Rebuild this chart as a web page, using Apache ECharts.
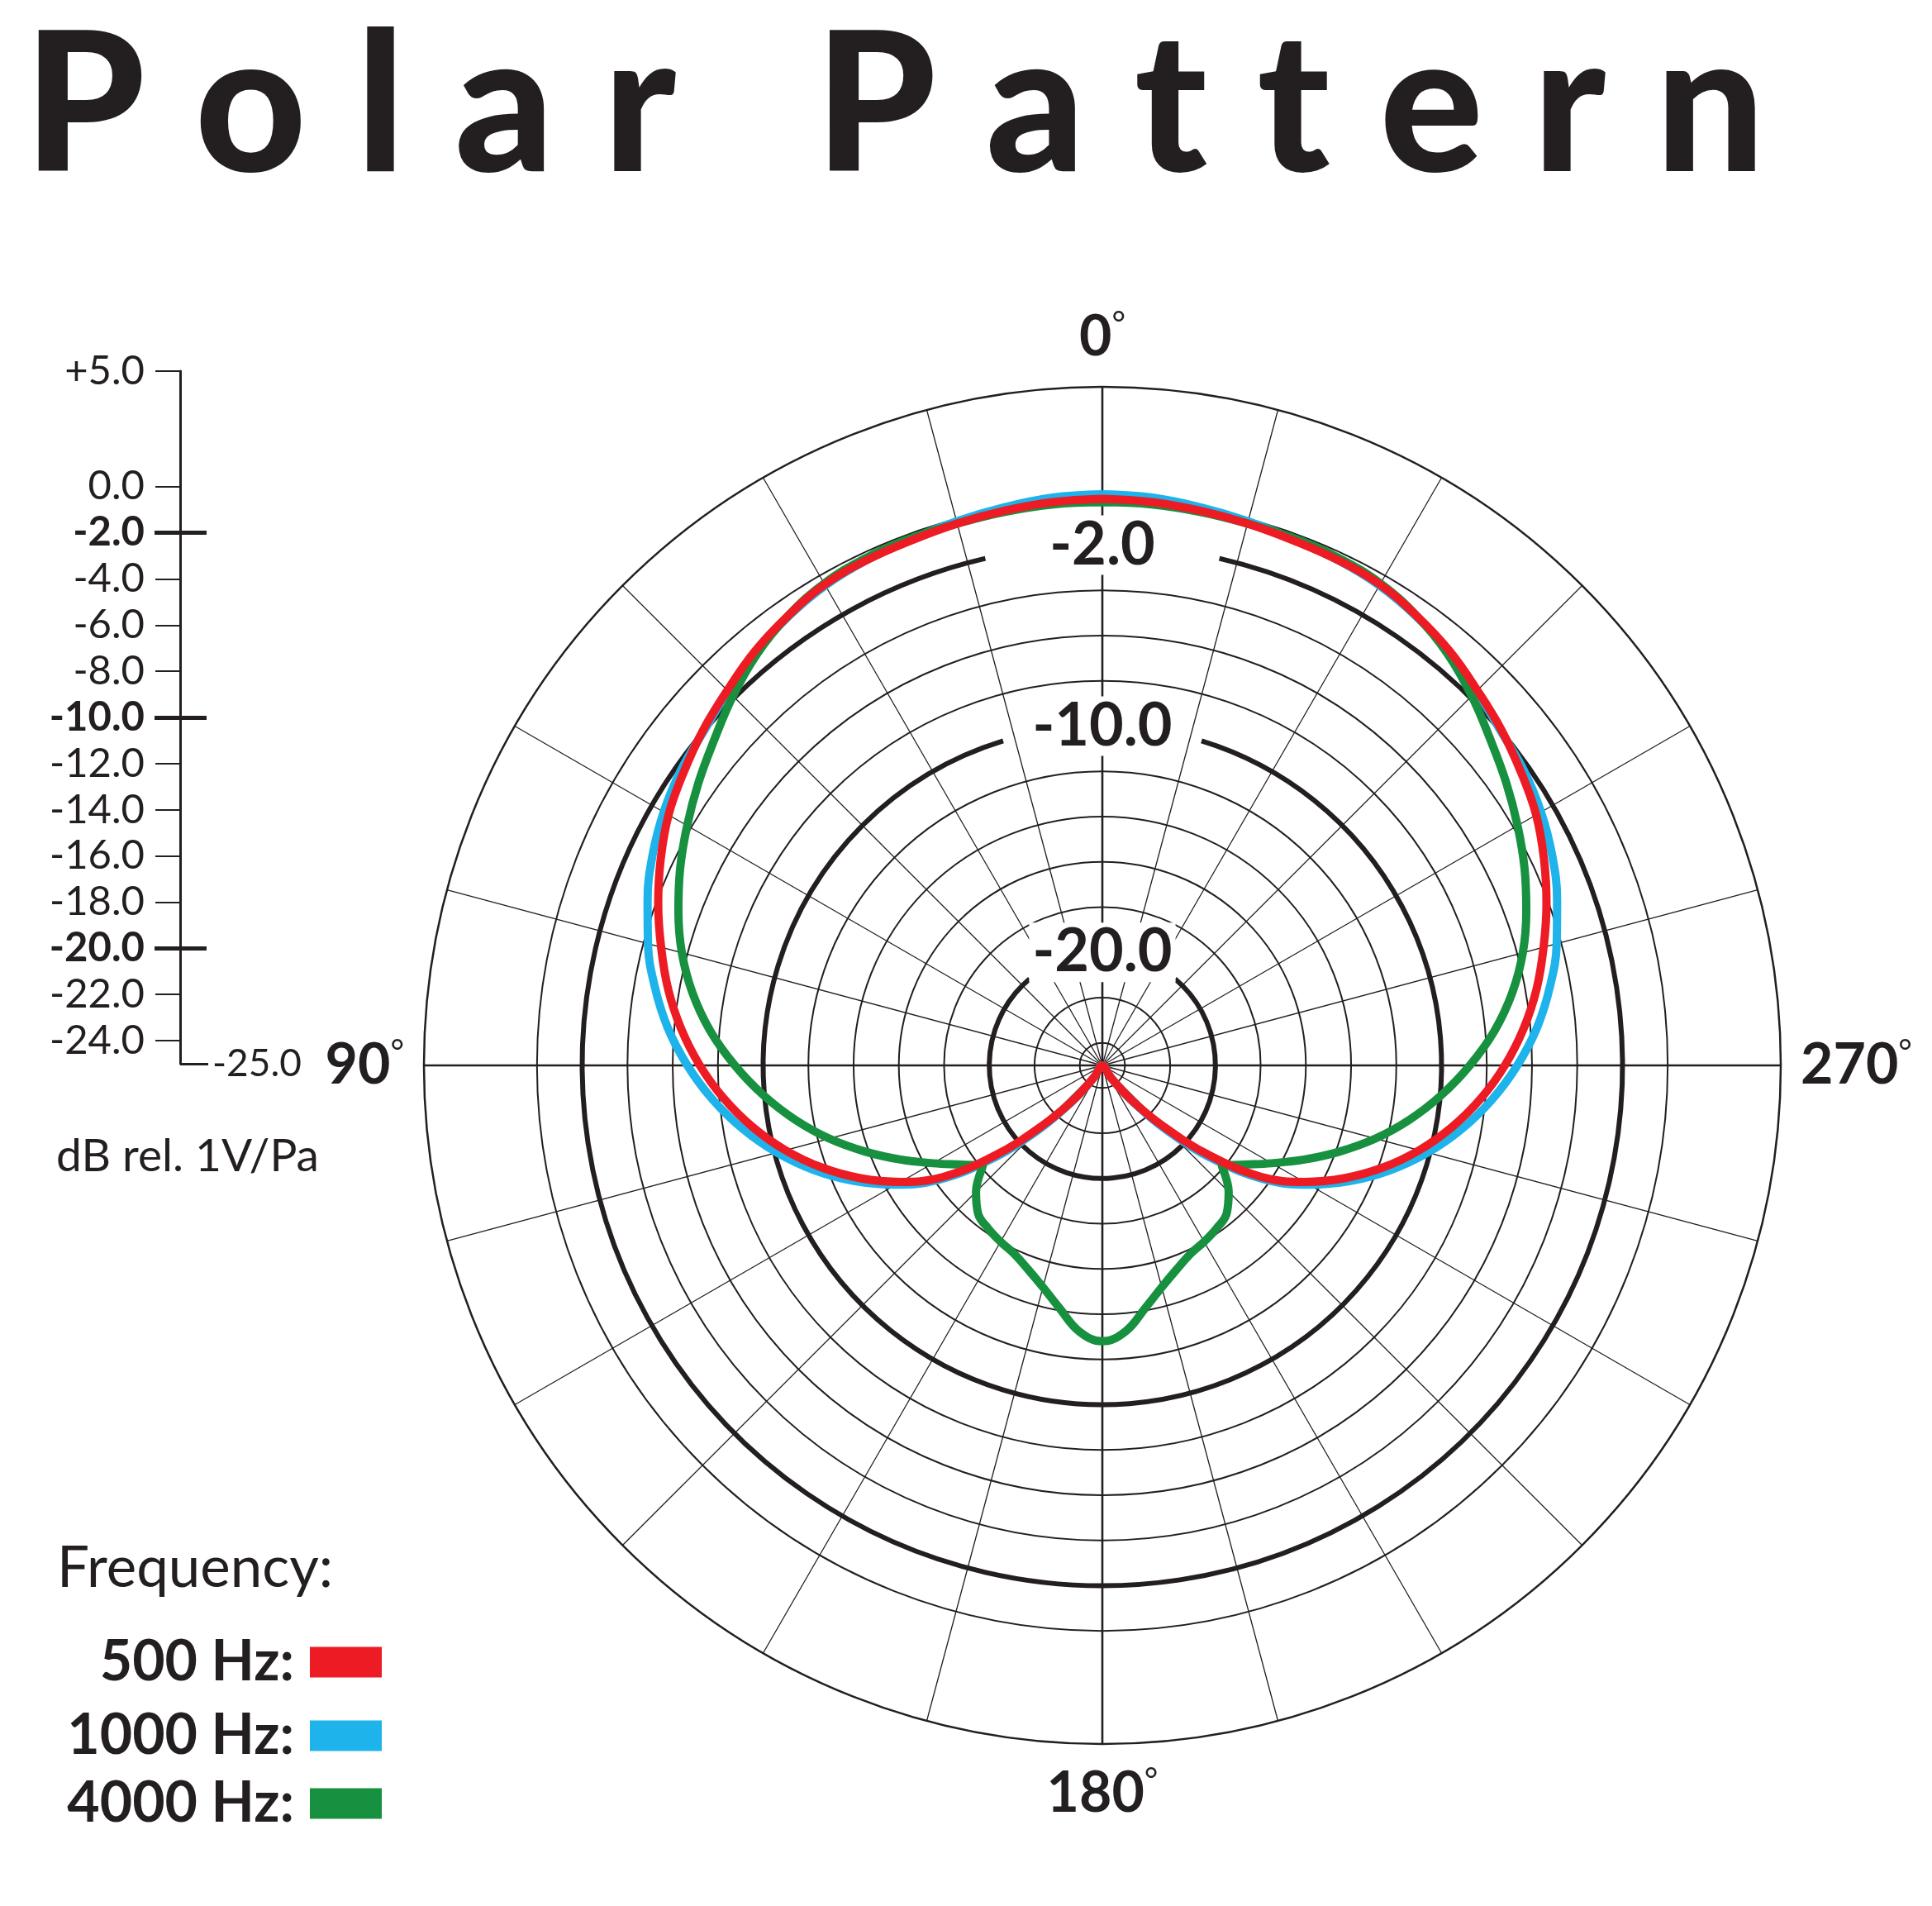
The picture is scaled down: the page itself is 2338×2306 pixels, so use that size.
<!DOCTYPE html>
<html>
<head>
<meta charset="utf-8">
<script src="https://cdn.jsdelivr.net/npm/echarts@6/dist/echarts.min.js"></script>
<style>
html,body{margin:0;padding:0;background:#ffffff;}
#chart{width:2338px;height:2306px;}
</style>
</head>
<body>
<div id="chart"></div>
<script>
// ---------------- data ----------------
const titleText = 'Polar Pattern';
const unitText = 'dB rel. 1V/Pa';
const legendTitle = 'Frequency:';
const seriesNames = ['500 Hz', '1000 Hz', '4000 Hz'];

const angles = [0,5,10,15,20,25,30,35,40,45,50,55,60,65,70,75,80,85,90,95,100,105,110,115,120,125,130,135,140,145,150,155,160,165,170,175,180,
  185,190,195,200,205,210,215,220,225,230,235,240,245,250,255,260,265,270,275,280,285,290,295,300,305,310,315,320,325,330,335,340,345,350,355,360];

const red500 = [0.05,0.0,-0.1,-0.2,-0.3,-0.35,-0.45,-0.75,-1.1,-1.55,-1.95,-2.4,-2.85,-3.45,-4.1,-4.8,-5.5,-6.3,-7.2,-8.2,-9.3,-10.5,-11.8,-13.2,-14.7,-16.4,-18.8,-21.2,-23.0,-24.4,-25,-25,-25,-25,-25,-25,-25,
  -25,-25,-25,-25,-25,-25,-24.4,-23.0,-21.2,-18.8,-16.4,-14.7,-13.2,-11.8,-10.5,-9.3,-8.2,-7.2,-6.3,-5.5,-4.8,-4.1,-3.45,-2.85,-2.4,-1.95,-1.55,-1.1,-0.75,-0.45,-0.35,-0.3,-0.2,-0.1,0.0,0.05];

const blue1000 = [0.25,0.2,0.05,-0.1,-0.25,-0.35,-0.5,-0.78,-1.15,-1.6,-2.0,-2.25,-2.6,-3.05,-3.6,-4.2,-4.9,-5.7,-6.65,-7.7,-8.85,-10.1,-11.45,-12.9,-14.45,-16.2,-18.5,-20.9,-22.9,-24.3,-25,-25,-25,-25,-25,-25,-25,
  -25,-25,-25,-25,-25,-25,-24.3,-22.9,-20.9,-18.5,-16.2,-14.45,-12.9,-11.45,-10.1,-8.85,-7.7,-6.65,-5.7,-4.9,-4.2,-3.6,-3.05,-2.6,-2.25,-2.0,-1.6,-1.15,-0.78,-0.5,-0.35,-0.25,-0.1,0.05,0.2,0.25];

const green4000 = [-0.1,-0.1,-0.15,-0.2,-0.2,-0.25,-0.4,-0.75,-1.25,-1.9,-2.6,-3.2,-3.8,-4.4,-5.05,-5.75,-6.6,-7.6,-8.75,-9.95,-11.2,-12.5,-13.85,-15.15,-16.35,-17.35,-18.1,-17.1,-16.45,-16.2,-16.0,-15.8,-15.4,-14.85,-14.1,-13.2,-12.8,
  -13.2,-14.1,-14.85,-15.4,-15.8,-16.0,-16.2,-16.45,-17.1,-18.1,-17.35,-16.35,-15.15,-13.85,-12.5,-11.2,-9.95,-8.75,-7.6,-6.6,-5.75,-5.05,-4.4,-3.8,-3.2,-2.6,-1.9,-1.25,-0.75,-0.4,-0.25,-0.2,-0.2,-0.15,-0.1,-0.1];

const seriesColors = ['#ED1C24', '#1EB3EA', '#17913F'];

// grid rings (dB) and labelled bold rings
const thinRingValues = [0, -4, -6, -8, -12, -14, -16, -18, -22, -24];
const boldRingValues = [-2, -10, -20];
const boldRingGapDeg = [13, 17, 40];
const angleLabelValues = [0, 90, 180, 270];

// left dB scale
const scaleLabelValues = [5, 0, -2, -4, -6, -8, -10, -12, -14, -16, -18, -20, -22, -24];
const scaleThinTickValues = [5, 0, -4, -6, -8, -12, -14, -16, -18, -22, -24];
const scaleBoldValues = [-2, -10, -20];
const scaleBottomValue = [-25];

// ---------------- styling ----------------
const ink = '#231f20';
const FONT = 'Lato, "Noto Sans", sans-serif';
const CX = 1334, CY = 1289, R = 821;

const chart = echarts.init(document.getElementById('chart'), null, {renderer: 'canvas', width: 2338, height: 2306});

const titleRich = titleText.split('').map(ch => ch === ' ' ? '{s| }' : '{c|' + ch + '}').join('');

const legendTops = [1977, 2066, 2148];

const lineSeries = (idx, values, z) => ({
  name: seriesNames[idx], type: 'line', coordinateSystem: 'polar', polarIndex: 0, z: z,
  symbol: 'none', showSymbol: false, silent: true, smooth: 0.4,
  itemStyle: {color: seriesColors[idx]},
  lineStyle: {color: seriesColors[idx], width: 10},
  data: angles.map((a, i) => [values[i], a])
});

const option = {
  animation: false,
  backgroundColor: '#ffffff',
  title: [
    {
      text: titleRich, left: 24, top: 2,
      textStyle: {
        rich: {
          c: {fontSize: 234, fontWeight: 900, fontFamily: FONT, color: ink, padding: [0, 60, 0, 0], lineHeight: 250},
          s: {fontSize: 234, width: 108, lineHeight: 250}
        }
      }
    },
    {
      text: legendTitle, left: 64, top: 1853,
      textStyle: {fontSize: 69, fontWeight: 'normal', fontFamily: FONT, color: ink, lineHeight: 80}
    },
    {
      text: unitText, left: 63, top: 1363,
      textStyle: {fontSize: 55, fontWeight: 'normal', fontFamily: FONT, color: ink, lineHeight: 62}
    }
  ],
  legend: seriesNames.map((n, i) => ({
    data: [n],
    orient: 'vertical',
    right: 1876,
    top: legendTops[i],
    padding: 0,
    icon: 'rect',
    itemWidth: 87,
    itemHeight: 37,
    align: 'right',
    selectedMode: false,
    itemStyle: {borderWidth: 0},
    formatter: name => '{t|' + name + ':}',
    textStyle: {
      rich: {t: {fontSize: 68, fontWeight: 'bold', fontFamily: FONT, color: ink, lineHeight: 74, padding: [0, 14, 0, 0]}}
    }
  })),
  polar: [
    {center: [CX, CY], radius: R},
    {center: [CX, CY], radius: R}
  ],
  angleAxis: [
    {
      polarIndex: 0, type: 'value', min: 0, max: 360, interval: 15, startAngle: 90, clockwise: false,
      axisLine: {show: true, lineStyle: {color: ink, width: 2.5}},
      axisTick: {show: false}, axisLabel: {show: false},
      splitLine: {show: true, lineStyle: {color: ink, width: 1.3}}
    },
    {
      polarIndex: 1, type: 'value', min: 0, max: 360, interval: 90, startAngle: 90, clockwise: false,
      axisLine: {show: false}, axisTick: {show: false},
      axisLabel: {
        show: true, margin: 24,
        formatter: v => angleLabelValues.indexOf(v) >= 0 ? '{n|' + v + '}{d|°}' : '',
        rich: {
          n: {fontSize: 68, fontWeight: 'bold', fontFamily: FONT, color: ink, lineHeight: 72},
          d: {fontSize: 40, fontWeight: 'normal', fontFamily: FONT, color: ink, verticalAlign: 'top', lineHeight: 40}
        }
      },
      splitLine: {show: true, lineStyle: {color: ink, width: 2.6}}
    }
  ],
  radiusAxis: [
    {
      polarIndex: 0, type: 'value', min: -25, max: 5,
      axisLine: {show: false},
      axisTick: {show: false, customValues: thinRingValues},
      axisLabel: {show: false},
      splitLine: {show: true, lineStyle: {color: ink, width: 2}}
    },
    {
      polarIndex: 1, type: 'value', min: -25, max: 5,
      axisLine: {show: false}, axisTick: {show: false}, axisLabel: {show: false}, splitLine: {show: false}
    }
  ],
  grid: [{left: 218, top: 449, width: 1, height: 838, outerBoundsMode: 'none'}],
  xAxis: [{gridIndex: 0, type: 'value', min: 0, max: 1, show: false}],
  yAxis: [
    {
      gridIndex: 0, type: 'value', min: -25, max: 5, position: 'left',
      axisLine: {show: true, lineStyle: {color: ink, width: 3}},
      axisTick: {show: true, length: 30, lineStyle: {color: ink, width: 2}, customValues: scaleThinTickValues},
      axisLabel: {
        show: true, margin: 43, customValues: scaleLabelValues,
        fontSize: 49, fontFamily: FONT, color: ink,
        formatter: v => {
          const s = v > 0 ? '+' + v.toFixed(1) : v.toFixed(1);
          return scaleBoldValues.indexOf(v) >= 0 ? '{b|' + s + '}' : s;
        },
        rich: {b: {fontSize: 49, fontWeight: 'bold', fontFamily: FONT, color: ink}}
      },
      splitLine: {show: false}
    },
    {
      gridIndex: 0, type: 'value', min: -25, max: 5, position: 'left',
      axisLine: {show: false},
      axisTick: {show: true, length: 31, lineStyle: {color: ink, width: 5}, customValues: scaleBoldValues},
      axisLabel: {show: false}, splitLine: {show: false}
    },
    {
      gridIndex: 0, type: 'value', min: -25, max: 5, position: 'left',
      axisLine: {show: false},
      axisTick: {show: true, inside: true, length: 32, lineStyle: {color: ink, width: 5}, customValues: scaleBoldValues},
      axisLabel: {show: false}, splitLine: {show: false}
    },
    {
      gridIndex: 0, type: 'value', min: -25, max: 5, position: 'left',
      axisLine: {show: false},
      axisTick: {show: true, inside: true, length: 34, lineStyle: {color: ink, width: 3}, customValues: scaleBottomValue},
      axisLabel: {
        show: true, inside: true, margin: 39, customValues: scaleBottomValue,
        fontSize: 46, fontFamily: FONT, color: ink,
        formatter: v => v.toFixed(1)
      },
      splitLine: {show: false}
    }
  ],
  series: [
    {
      type: 'custom', coordinateSystem: 'polar', polarIndex: 0, z: 2, silent: true,
      data: boldRingValues.map((v, i) => [v, boldRingGapDeg[i]]),
      renderItem: (params, api) => {
        const v = api.value(0);
        const g = api.value(1) * Math.PI / 180;
        const c = api.coord([-25, 0]);
        const p = api.coord([v, 0]);
        const r = Math.hypot(p[0] - c[0], p[1] - c[1]);
        return {
          type: 'group',
          children: [
            {
              type: 'arc',
              shape: {cx: c[0], cy: c[1], r: r, startAngle: -Math.PI / 2 + g, endAngle: 3 * Math.PI / 2 - g, clockwise: true},
              style: {stroke: ink, lineWidth: 6, fill: 'none'}
            },
            {
              type: 'text', x: p[0], y: p[1],
              style: {
                text: v.toFixed(1), fontSize: 72, fontWeight: 'bold', fontFamily: FONT,
                fill: ink, align: 'center', verticalAlign: 'middle',
                backgroundColor: '#ffffff', padding: [0, 4]
              }
            }
          ]
        };
      }
    },
    lineSeries(1, blue1000, 3),
    lineSeries(2, green4000, 4),
    lineSeries(0, red500, 5)
  ]
};

chart.setOption(option);
</script>
</body>
</html>
